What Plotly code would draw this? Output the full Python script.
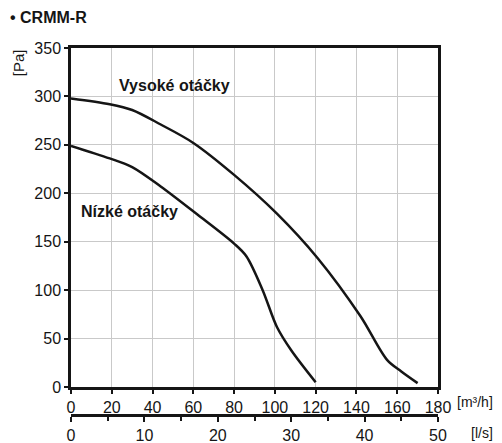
import plotly.graph_objects as go

# Data (airflow m3/h vs pressure Pa)
high_x = [0, 19, 30, 44, 60, 80, 101, 121, 142, 155, 162, 170]
high_y = [298, 292, 286, 271, 252, 219, 179, 133, 73, 28, 16, 4]
low_x = [0, 19, 30, 44, 62, 80, 86, 94, 101, 108, 120]
low_y = [249, 236, 227, 207, 178, 148, 135, 100, 62, 38, 5]

x_ticks = [0, 20, 40, 60, 80, 100, 120, 140, 160, 180]
y_ticks = [0, 50, 100, 150, 200, 250, 300, 350]
ls_ticks = [0, 10, 20, 30, 40, 50]

FONT = "Liberation Sans, Arial, sans-serif"
INK = "#151515"

fig = go.Figure()
for xs, ys in [(high_x, high_y), (low_x, low_y)]:
    fig.add_trace(go.Scatter(x=xs, y=ys, mode="lines",
                             line=dict(color=INK, width=2.5, shape="spline", smoothing=0.9),
                             showlegend=False, hoverinfo="skip"))

# invisible trace to activate the secondary (l/s) axis
fig.add_trace(go.Scatter(x=[0, 50], y=[0, 0], xaxis="x2", mode="lines",
                         line=dict(width=0), showlegend=False, hoverinfo="skip"))

fig.update_layout(
    width=502, height=443,
    margin=dict(l=71, r=64, t=48, b=20),
    paper_bgcolor="white", plot_bgcolor="white",
    font=dict(family=FONT, size=16, color=INK),
    xaxis=dict(range=[0, 180], tickvals=x_ticks, domain=[0, 1],
               showgrid=True, gridcolor="#c9c9c9", gridwidth=1,
               showline=True, linecolor=INK, linewidth=2.5, mirror=True,
               ticks="outside", ticklen=4, tickcolor=INK, tickwidth=1.5,
               zeroline=False, anchor="y", automargin=False),
    yaxis=dict(range=[0, 350], tickvals=y_ticks, domain=[0.096, 1],
               showgrid=True, gridcolor="#c9c9c9", gridwidth=1,
               showline=True, linecolor=INK, linewidth=2.5, mirror=True,
               ticks="outside", ticklen=4, tickcolor=INK, tickwidth=1.5,
               zeroline=False, automargin=False),
    xaxis2=dict(range=[0, 50], tickvals=ls_ticks, domain=[0, 1],
                anchor="free", position=0.0213, overlaying="x", side="bottom",
                showgrid=False, showline=True, linecolor=INK, linewidth=2.5,
                ticks="outside", ticklen=5, tickcolor=INK, tickwidth=1.5,
                minor=dict(dtick=5, ticks="outside", ticklen=4, tickcolor=INK, tickwidth=1.5),
                zeroline=False, automargin=False),
    annotations=[
        dict(text="<b>• CRMM-R</b>", xref="paper", yref="paper", x=-0.172, y=1.08,
             xanchor="left", yanchor="middle", showarrow=False, font=dict(size=16)),
        dict(text="[Pa]", xref="paper", yref="paper", x=-0.144, y=0.96, textangle=-90,
             xanchor="center", yanchor="middle", showarrow=False, font=dict(size=15)),
        dict(text="[m³/h]", xref="paper", yref="paper", x=1.155, y=0.056,
             xanchor="right", yanchor="middle", showarrow=False, font=dict(size=14)),
        dict(text="[l/s]", xref="paper", yref="paper", x=1.155, y=-0.027,
             xanchor="right", yanchor="middle", showarrow=False, font=dict(size=14)),
        dict(text="<b>Vysoké otáčky</b>", xref="x", yref="y", x=50.6, y=311,
             xanchor="center", yanchor="middle", showarrow=False, font=dict(size=16)),
        dict(text="<b>Nízké otáčky</b>", xref="x", yref="y", x=28.6, y=181,
             xanchor="center", yanchor="middle", showarrow=False, font=dict(size=16)),
    ],
)

fig.write_html(
    "out.html",
    config={"displayModeBar": False},
    post_script="document.body.style.margin='0';document.body.style.overflow='hidden';",
)
